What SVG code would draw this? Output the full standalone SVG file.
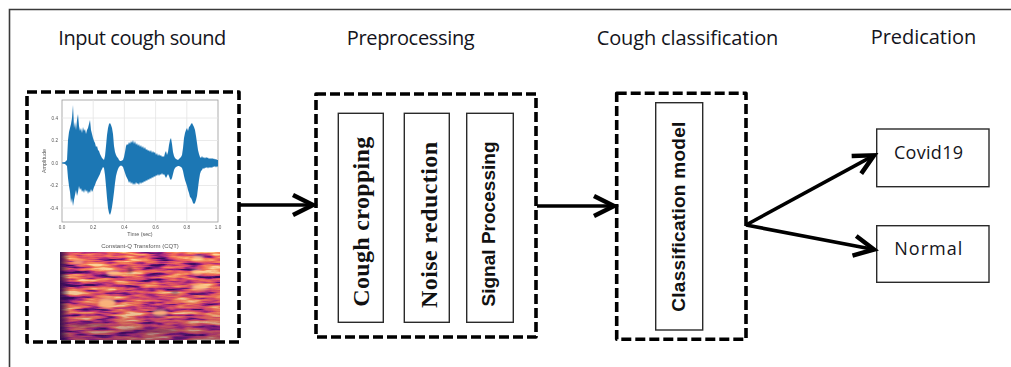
<svg xmlns="http://www.w3.org/2000/svg" width="1011" height="367" viewBox="0 0 1011 367">
  <style>
    .frame { stroke: #3a3a3a; stroke-width: 1.6; fill: none; }
    .stage { fill: none; stroke: #000; stroke-width: 3.6; stroke-dasharray: 10 4; stroke-linejoin: round; }
    .step { fill: #fff; stroke: #2a2a2a; stroke-width: 1.4; }
    .head { font-family: "Open Sans", "Liberation Sans", sans-serif; font-size: 20px; fill: #141420; }
    .serif { font-family: "Liberation Serif", serif; font-weight: bold; font-size: 24px; fill: #111; }
    .sans { font-family: "Liberation Sans", sans-serif; font-weight: bold; font-size: 19px; fill: #111; }
    .out { font-family: "Open Sans", "Liberation Sans", sans-serif; font-size: 18px; fill: #141420; }
    .conn { stroke: #000; stroke-width: 3.6; fill: none; }
    .grid { stroke: #e4e4e4; stroke-width: 0.8; }
    .tick { font-family: "Liberation Sans", sans-serif; font-size: 4.6px; fill: #555; }
  </style>
  <defs>
    <marker id="arrow" markerUnits="userSpaceOnUse" markerWidth="30" markerHeight="30" viewBox="-20 -12 24 24" refX="0" refY="0" orient="auto">
      <path d="M-16,-8 L0,0 L-16,8" fill="none" stroke="#000" stroke-width="3.6" stroke-linejoin="miter"/>
    </marker>
    <filter id="soft" x="-5%" y="-5%" width="110%" height="110%">
      <feGaussianBlur stdDeviation="0.35"/>
    </filter>
    <!-- magma-like noise texture for the CQT panel: streaky along time -->
    <filter id="cqt" x="0" y="0" width="100%" height="100%" filterUnits="objectBoundingBox" color-interpolation-filters="sRGB">
      <feTurbulence type="fractalNoise" baseFrequency="0.035 0.24" numOctaves="3" seed="11" result="n"/>
      <feColorMatrix in="n" type="matrix" values="1.9 0 0 0 -0.45  1.9 0 0 0 -0.45  1.9 0 0 0 -0.45  0 0 0 0 1" result="g"/>
      <feComponentTransfer in="g">
        <feFuncR type="table" tableValues="0.22 0.42 0.66 0.84 0.93 0.97 0.99 1"/>
        <feFuncG type="table" tableValues="0.06 0.08 0.16 0.27 0.38 0.5 0.66 0.84"/>
        <feFuncB type="table" tableValues="0.36 0.48 0.5 0.44 0.36 0.34 0.42 0.6"/>
      </feComponentTransfer>
    </filter>
    <filter id="glow" x="-50%" y="-100%" width="200%" height="300%">
      <feGaussianBlur stdDeviation="1.6"/>
    </filter>
    <linearGradient id="fadeL" x1="0" y1="0" x2="1" y2="0">
      <stop offset="0" stop-color="#2a0d4a" stop-opacity="0.95"/>
      <stop offset="1" stop-color="#2a0d4a" stop-opacity="0"/>
    </linearGradient>
    <linearGradient id="fadeB" x1="0" y1="0" x2="0" y2="1">
      <stop offset="0" stop-color="#4a1460" stop-opacity="0"/>
      <stop offset="0.7" stop-color="#4a1460" stop-opacity="0.1"/>
      <stop offset="1" stop-color="#4a1460" stop-opacity="0.45"/>
    </linearGradient>
    <clipPath id="cqtClip"><rect x="60" y="252" width="160" height="88"/></clipPath>
  </defs>

  <!-- outer frame (top and left edges) -->
  <path class="frame" d="M9.5,367 V9.5 H1011"/>

  <!-- column titles -->
  <g id="titles">
    <text class="head" x="58.3" y="45" textLength="168">Input cough sound</text>
    <text class="head" x="346.7" y="45" textLength="128">Preprocessing</text>
    <text class="head" x="596.7" y="45" textLength="181.6">Cough classification</text>
    <text class="head" x="870.7" y="44" textLength="105.5">Predication</text>
  </g>

  <!-- input stage: waveform + CQT -->
  <g id="input">
    <rect class="stage" x="27" y="92" width="212" height="250"/>
    <g filter="url(#soft)">
      <rect x="62" y="100" width="156" height="122" fill="#fff" stroke="#9a9a9a" stroke-width="0.8"/>
      <g class="grid">
        <line x1="93.2" y1="100" x2="93.2" y2="222"/>
        <line x1="124.4" y1="100" x2="124.4" y2="222"/>
        <line x1="155.6" y1="100" x2="155.6" y2="222"/>
        <line x1="186.8" y1="100" x2="186.8" y2="222"/>
        <line x1="62" y1="118" x2="218" y2="118"/>
        <line x1="62" y1="140.5" x2="218" y2="140.5"/>
        <line x1="62" y1="163" x2="218" y2="163"/>
        <line x1="62" y1="185.5" x2="218" y2="185.5"/>
        <line x1="62" y1="208" x2="218" y2="208"/>
      </g>
      <path fill="#1f77b4" d="M62,162.5 L65,162 L67,160 L68,140 L69,132 L70,128 L71,124 L72,118 L73,105 L73.6,118 L74,128 L75,122 L76,130 L77,120 L78,114 L79,126 L80,131 L81,128 L82,133 L83,127 L84,131 L85,129 L86,134 L87,130 L88,128 L89,124 L90,120 L91,130 L92,134 L93,138 L94,141 L95,143 L96,147 L97,146 L98,150 L99,151 L100,154 L101,156 L102,158 L103,159 L104,160 L105,156 L106,146 L107,135 L108,128 L109,124 L110,123 L111,125 L112,128 L113,134 L114,146 L115,152 L116,155 L117,157 L118,158 L119,160 L120,161 L121,161 L122,160.5 L123,160 L124,157 L125,152 L126,146 L127,144 L128,145 L129,142 L130,144 L131,141 L132,143 L133,140 L134,144 L135,141 L136,145 L137,143 L138,146 L139,144 L140,147 L141,145 L142,148 L143,146 L144,149 L145,147 L146,150 L147,149 L148,151 L149,150 L150,152 L151,150 L152,153 L153,151 L154,153 L155,152 L156,155 L157,153 L158,156 L159,154 L160,156 L161,155 L162,157 L163,156 L164,157 L165,153 L166,151 L167,155 L168,152 L169,145 L170,140 L171,138 L172,144 L173,152 L174,156 L175,158 L176,159 L177,159.5 L178,160 L179,159 L180,158 L181,157 L182,155 L183,148 L184,138 L185,133 L186,130 L187,128 L188,131 L189,127 L190,126 L191,124 L192,123 L193,125 L194,127 L195,130 L196,136 L197,143 L198,150 L199,154 L200,157 L201,158 L202,156 L203,158 L204,157 L205,158.5 L206,157 L207,158 L208,157.5 L209,159 L210,158 L211,159 L212,158 L213,159 L214,158.5 L215,159.5 L216,159 L217,160 L218,160 L218,167 L217,166 L216,167.5 L215,166 L214,167 L213,166.5 L212,168 L211,167 L210,168 L209,167 L208,168.5 L207,167 L206,168 L205,167.5 L204,169 L203,168 L202,170 L201,171 L200,174 L199,180 L198,188 L197,196 L196,200 L195,203 L194,204 L193,203 L192,200 L191,198 L190,197 L189,193 L188,190 L187,186 L186,183 L185,180 L184,176 L183,171 L182,168 L181,167 L180,166.5 L179,166 L178,166 L177,166.5 L176,167 L175,168 L174,170 L173,174 L172,178 L171,180 L170,179 L169,176 L168,174 L167,176 L166,178 L165,176 L164,174 L163,175 L162,173 L161,175 L160,174 L159,176 L158,174 L157,176 L156,175 L155,177 L154,176 L153,178 L152,177 L151,179 L150,178 L149,180 L148,179 L147,181 L146,180 L145,182 L144,181 L143,183 L142,182 L141,184 L140,182 L139,185 L138,183 L137,184 L136,182 L135,185 L134,183 L133,185 L132,182 L131,184 L130,181 L129,183 L128,180 L127,178 L126,176 L125,173 L124,170 L123,167 L122,166 L121,165.5 L120,166 L119,167 L118,169 L117,172 L116,176 L115,183 L114,192 L113,200 L112,207 L111,212 L110,215 L109,213 L108,208 L107,198 L106,186 L105,175 L104,168 L103,167 L102,169 L101,171 L100,174 L99,176 L98,178 L97,180 L96,182 L95,185 L94,187 L93,190 L92,192 L91,189 L90,193 L89,191 L88,194 L87,190 L86,192 L85,189 L84,193 L83,190 L82,192 L81,188 L80,190 L79,186 L78,192 L77,196 L76,190 L75,195 L74,200 L73,206 L72,198 L71,203 L70,192 L69,186 L68,178 L67,166 L65,164 L62,163.5 Z"/>
      <g class="tick" text-anchor="end">
        <text x="58" y="119.6">0.4</text>
        <text x="58" y="142.1">0.2</text>
        <text x="58" y="164.6">0.0</text>
        <text x="58" y="187.1">-0.2</text>
        <text x="58" y="209.6">-0.4</text>
      </g>
      <g class="tick" text-anchor="middle">
        <text x="62" y="229">0.0</text>
        <text x="93.2" y="229">0.2</text>
        <text x="124.4" y="229">0.4</text>
        <text x="155.6" y="229">0.6</text>
        <text x="186.8" y="229">0.8</text>
        <text x="218" y="229">1.0</text>
        <text x="140" y="235.5" font-size="5.4">Time (sec)</text>
        <text transform="translate(45.5,161) rotate(-90)" font-size="5.4">Amplitude</text>
        <text x="140" y="248" font-size="6">Constant-Q Transform (CQT)</text>
      </g>
      <g clip-path="url(#cqtClip)">
        <rect x="60" y="252" width="160" height="88" fill="#d94a5a"/>
        <rect x="60" y="252" width="160" height="88" filter="url(#cqt)"/>
        <rect x="60" y="252" width="160" height="88" fill="url(#fadeB)"/>
        <rect x="60" y="252" width="10" height="88" fill="url(#fadeL)"/>
        <g filter="url(#glow)" fill="#ffd28a">
          <ellipse cx="113" cy="273" rx="7" ry="2"/>
          <ellipse cx="107" cy="303" rx="9" ry="5" fill="#f9b27a"/>
          <ellipse cx="160" cy="313" rx="8" ry="3" fill="#f9b27a"/>
          <ellipse cx="200" cy="287" rx="9" ry="2.4"/>
          <ellipse cx="197" cy="272" rx="6" ry="2"/>
          <ellipse cx="198" cy="258" rx="6" ry="2"/>
          <ellipse cx="78" cy="262" rx="6" ry="2" fill="#f7a37a"/>
        </g>
        <g filter="url(#glow)" fill="#3a0f5c" opacity="0.5">
          <ellipse cx="88" cy="325" rx="20" ry="1.6"/>
          <ellipse cx="150" cy="331" rx="30" ry="1.6"/>
          <ellipse cx="130" cy="270" rx="3" ry="3"/>
          <ellipse cx="175" cy="292" rx="4" ry="2.5"/>
        </g>
      </g>
    </g>
  </g>

  <!-- preprocessing stage -->
  <g id="preprocessing">
    <rect class="stage" x="316" y="94" width="220" height="243"/>
    <rect class="step" x="338.3" y="113.3" width="45" height="209"/>
    <rect class="step" x="404.3" y="113.3" width="45" height="209"/>
    <rect class="step" x="466.7" y="113.3" width="46.6" height="209"/>
    <text class="serif" transform="translate(369,221.7) rotate(-90)" text-anchor="middle" textLength="170">Cough cropping</text>
    <text class="serif" transform="translate(437,225) rotate(-90)" text-anchor="middle" textLength="166">Noise reduction</text>
    <text class="sans" transform="translate(495,224) rotate(-90)" text-anchor="middle" textLength="165">Signal Processing</text>
  </g>

  <!-- classification stage -->
  <g id="classification">
    <rect class="stage" x="616.7" y="93.3" width="129.3" height="246"/>
    <rect class="step" x="655.7" y="102.7" width="47" height="227.3"/>
    <text class="sans" transform="translate(685,216.7) rotate(-90)" text-anchor="middle" textLength="190">Classification model</text>
  </g>

  <!-- prediction outputs -->
  <g id="covid19">
    <rect class="step" x="876.7" y="129" width="112.3" height="57.7"/>
    <text class="out" x="894" y="159" textLength="69">Covid19</text>
  </g>
  <g id="normal">
    <rect class="step" x="876.7" y="225.7" width="112.3" height="56.6"/>
    <text class="out" x="894.3" y="255" textLength="68">Normal</text>
  </g>

  <!-- connectors -->
  <g id="connectors">
    <line class="conn" x1="240" y1="205" x2="313" y2="205" marker-end="url(#arrow)"/>
    <line class="conn" x1="537" y1="206" x2="614" y2="206" marker-end="url(#arrow)"/>
    <line class="conn" x1="746" y1="225" x2="874" y2="155.3" marker-end="url(#arrow)"/>
    <line class="conn" x1="746" y1="225" x2="874" y2="249.5" marker-end="url(#arrow)"/>
  </g>
</svg>
